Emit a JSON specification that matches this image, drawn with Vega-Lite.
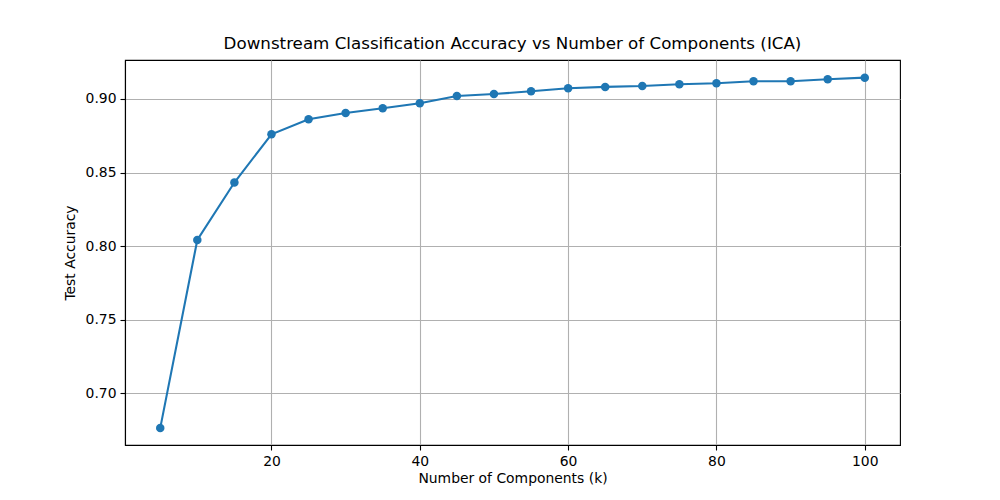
{
  "$schema": "https://vega.github.io/schema/vega-lite/v6.json",
  "description": "Downstream classification accuracy vs number of ICA components",
  "autosize": "none",
  "width": 775,
  "height": 385,
  "padding": {"left": 125, "top": 60, "right": 100, "bottom": 55},
  "background": "white",
  "title": {
    "text": "Downstream Classification Accuracy vs Number of Components (ICA)",
    "font": "DejaVu Sans",
    "fontSize": 16.7,
    "fontWeight": "normal",
    "color": "black",
    "anchor": "middle",
    "offset": 7
  },
  "config": {
    "view": {"stroke": "black", "strokeWidth": 1.1},
    "axis": {
      "labelFont": "DejaVu Sans",
      "titleFont": "DejaVu Sans",
      "labelFontSize": 13.9,
      "titleFontSize": 13.9,
      "titleFontWeight": "normal",
      "labelColor": "black",
      "titleColor": "black",
      "domainColor": "black",
      "domainWidth": 1.1,
      "tickColor": "black",
      "tickSize": 5,
      "tickWidth": 1.1,
      "labelPadding": 4,
      "grid": true,
      "gridColor": "#b0b0b0",
      "gridWidth": 1.1
    }
  },
  "data": {
    "values": [
      {"k": 5, "acc": 0.6762},
      {"k": 10, "acc": 0.8041},
      {"k": 15, "acc": 0.8432},
      {"k": 20, "acc": 0.8760},
      {"k": 25, "acc": 0.8862},
      {"k": 30, "acc": 0.8905},
      {"k": 35, "acc": 0.8937},
      {"k": 40, "acc": 0.8971},
      {"k": 45, "acc": 0.9020},
      {"k": 50, "acc": 0.9034},
      {"k": 55, "acc": 0.9052},
      {"k": 60, "acc": 0.9073},
      {"k": 65, "acc": 0.9082},
      {"k": 70, "acc": 0.9088},
      {"k": 75, "acc": 0.9100},
      {"k": 80, "acc": 0.9107},
      {"k": 85, "acc": 0.9121},
      {"k": 90, "acc": 0.9120},
      {"k": 95, "acc": 0.9134},
      {"k": 100, "acc": 0.9145}
    ]
  },
  "encoding": {
    "x": {
      "field": "k",
      "type": "quantitative",
      "title": "Number of Components (k)",
      "scale": {"domain": [0.25, 104.75], "nice": false, "zero": false},
      "axis": {"values": [20, 40, 60, 80, 100], "titlePadding": 4}
    },
    "y": {
      "field": "acc",
      "type": "quantitative",
      "title": "Test Accuracy",
      "scale": {"domain": [0.6647, 0.9265], "nice": false, "zero": false},
      "axis": {"values": [0.7, 0.75, 0.8, 0.85, 0.9], "format": ".2f", "titlePadding": 8}
    }
  },
  "layer": [
    {
      "mark": {"type": "line", "color": "#1f77b4", "strokeWidth": 2.1}
    },
    {
      "mark": {"type": "point", "filled": true, "opacity": 1, "color": "#1f77b4", "size": 72}
    }
  ]
}
